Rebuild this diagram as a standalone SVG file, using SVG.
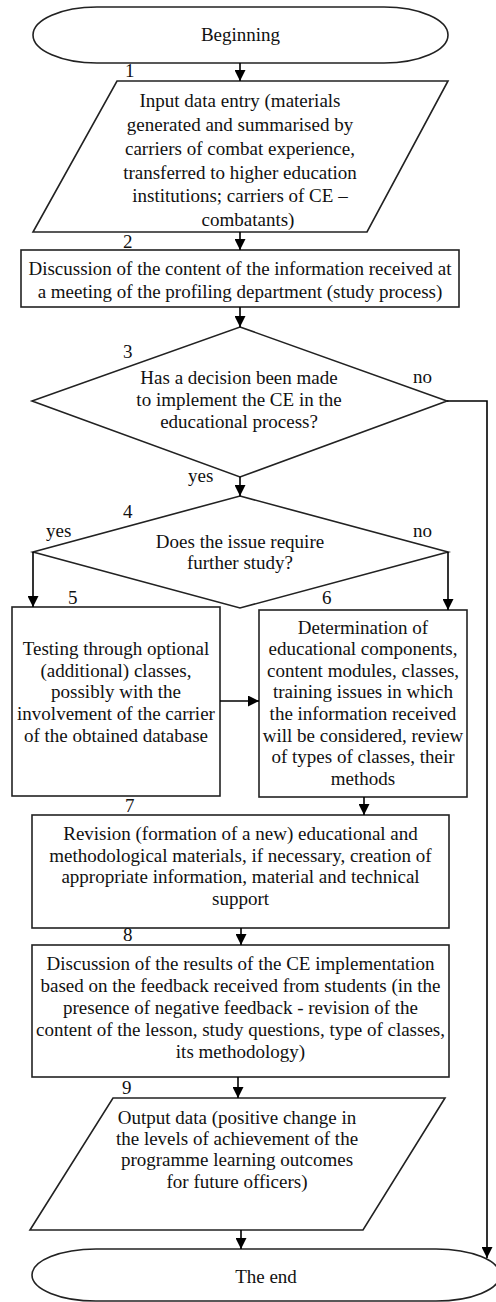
<svg xmlns="http://www.w3.org/2000/svg" width="496" height="1302" viewBox="0 0 496 1302">
<defs>
<marker id="ah" viewBox="0 0 10 10" refX="10" refY="5" markerWidth="11" markerHeight="11" markerUnits="userSpaceOnUse" orient="auto">
<path d="M0,0 L10,5 L0,10 z" fill="#000"/>
</marker>
<style>
.s{fill:#fff;stroke:#222;stroke-width:1.6}
.c{fill:none;stroke:#000;stroke-width:1.6;marker-end:url(#ah)}
text{font-family:"Liberation Serif","Times New Roman",serif;font-size:19px;fill:#111}
.m{text-anchor:middle}
</style>
</defs>
<rect width="496" height="1302" fill="#fff"/>
<g id="begin">
<rect class="s" x="33" y="7" width="415" height="56" rx="64" ry="28"/>
<text class="m" x="240.5" y="41">Beginning</text>
</g>
<g id="n1">
<polygon class="s" points="117,81 448,81 367,232 33,232"/>
<text x="125" y="77">1</text>
<text class="m" x="240"><tspan x="240" y="107">Input data entry (materials</tspan><tspan x="240" y="131">generated and summarised by</tspan><tspan x="240" y="155">carriers of combat experience,</tspan><tspan x="240" y="179">transferred to higher education</tspan><tspan x="240" y="202">institutions; carriers of CE –</tspan><tspan x="248" y="226">combatants)</tspan></text>
</g>
<g id="n2">
<rect class="s" x="21" y="250" width="438" height="57"/>
<text x="123" y="248">2</text>
<text class="m"><tspan x="240" y="275">Discussion of the content of the information received at</tspan><tspan x="240" y="298">a meeting of the profiling department (study process)</tspan></text>
</g>
<g id="n3">
<polygon class="s" points="240,327 447,401 240,477 32,401"/>
<text x="123" y="358">3</text>
<text class="m"><tspan x="239" y="384">Has a decision been made</tspan><tspan x="239" y="406">to implement the CE in the</tspan><tspan x="239" y="428">educational process?</tspan></text>
</g>
<g id="n4">
<polygon class="s" points="240,496 448,552 240,608 33,552"/>
<text x="123" y="518">4</text>
<text class="m"><tspan x="240" y="548">Does the issue require</tspan><tspan x="240" y="569">further study?</tspan></text>
</g>
<g id="n5">
<rect class="s" x="12" y="607" width="208" height="189"/>
<text x="68" y="604">5</text>
<text class="m"><tspan x="116" y="655">Testing through optional</tspan><tspan x="116" y="677">(additional) classes,</tspan><tspan x="116" y="698">possibly with the</tspan><tspan x="116" y="720">involvement of the carrier</tspan><tspan x="116" y="742">of the obtained database</tspan></text>
</g>
<g id="n6">
<rect class="s" x="259" y="610" width="208" height="187"/>
<text x="322" y="604">6</text>
<text class="m"><tspan x="363" y="634">Determination of</tspan><tspan x="363" y="655">educational components,</tspan><tspan x="363" y="677">content modules, classes,</tspan><tspan x="363" y="698">training issues in which</tspan><tspan x="363" y="720">the information received</tspan><tspan x="363" y="742">will be considered, review</tspan><tspan x="363" y="763">of types of classes, their</tspan><tspan x="363" y="785">methods</tspan></text>
</g>
<g id="n7">
<rect class="s" x="32" y="815" width="417" height="113"/>
<text x="125" y="812">7</text>
<text class="m"><tspan x="240.5" y="840">Revision (formation of a new) educational and</tspan><tspan x="240.5" y="862">methodological materials, if necessary, creation of</tspan><tspan x="240.5" y="883">appropriate information, material and technical</tspan><tspan x="240.5" y="905">support</tspan></text>
</g>
<g id="n8">
<rect class="s" x="32" y="945" width="417" height="132"/>
<text x="123" y="941">8</text>
<text class="m"><tspan x="240.5" y="970">Discussion of the results of the CE implementation</tspan><tspan x="240.5" y="992">based on the feedback received from students (in the</tspan><tspan x="240.5" y="1014">presence of negative feedback - revision of the</tspan><tspan x="240.5" y="1036">content of the lesson, study questions, type of classes,</tspan><tspan x="240.5" y="1058">its methodology)</tspan></text>
</g>
<g id="n9">
<polygon class="s" points="113,1098 445,1098 363,1230 30,1230"/>
<text x="122" y="1094">9</text>
<text class="m"><tspan x="237" y="1124">Output data (positive change in</tspan><tspan x="237" y="1145">the levels of achievement of the</tspan><tspan x="237" y="1166">programme learning outcomes</tspan><tspan x="237" y="1188">for future officers)</tspan></text>
</g>
<g id="end">
<rect class="s" x="32" y="1249" width="468" height="52" rx="64" ry="26"/>
<text class="m" x="266" y="1283">The end</text>
</g>
<g id="connectors">
<path class="c" d="M240,63 V81"/>
<path class="c" d="M240,232 V250"/>
<path class="c" d="M240,307 V327"/>
<path class="c" d="M240,477 V496"/>
<path class="c" d="M33,552 V607"/>
<path class="c" d="M448,552 V610"/>
<path class="c" d="M220,701 H259"/>
<path class="c" d="M364,797 V815"/>
<path class="c" d="M241,928 V945"/>
<path class="c" d="M238,1077 V1098"/>
<path class="c" d="M241,1230 V1249"/>
<path class="c" d="M447,401 H487 V1258"/>
<text x="413" y="383">no</text>
<text x="188" y="482">yes</text>
<text x="46" y="537">yes</text>
<text x="413" y="537">no</text>
</g>
</svg>
